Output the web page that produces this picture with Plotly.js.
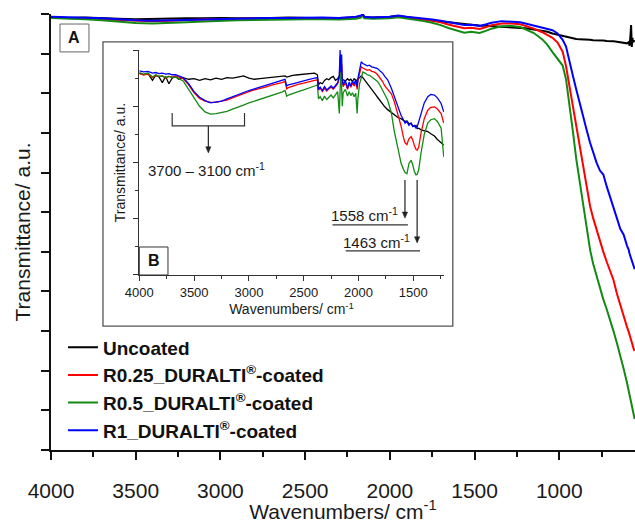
<!DOCTYPE html>
<html>
<head>
<meta charset="utf-8">
<script src="https://cdn.plot.ly/plotly-3.0.1.min.js"></script>
<style>html,body{margin:0;padding:0;background:#fff;}#chart{width:635px;height:523px;}</style>
</head>
<body>
<div id="chart"></div>
<script>
// ---------- Main panel (A) ----------
const mainWn = [4000,3900,3800,3700,3600,3500,3400,3300,3200,3100,3000,2900,2800,2700,2600,2500,2400,2300,2200,2170,2160,2150,2100,2000,1950,1900,1850,1800,1750,1700,1650,1600,1560,1520,1470,1430,1400,1340,1280,1230,1200,1150,1100,1070,1040,1010,980,960,940,920,900,880,860,840,818,800,780,760,740,720,700,680,660,640,620,600,590,585,580,576,572,568,564,560,555];
const mainUncoated = [109.2,109.0,109.1,108.9,108.8,108.7,108.8,108.8,108.9,108.9,109.0,108.9,108.9,109.0,109.1,109.0,108.9,109.0,109.1,109.4,109.9,109.2,109.1,109.3,109.5,109.2,108.9,108.6,108.4,108.1,107.9,107.6,107.4,107.3,107.1,107.0,106.9,106.9,106.7,106.5,106.4,106.1,105.8,105.5,105.1,104.8,104.5,104.3,104.0,103.8,103.7,103.6,103.6,103.5,103.5,103.4,103.4,103.4,103.3,103.2,103.2,103.1,103.0,102.9,102.7,102.6,102.9,102.0,104.5,107.2,101.7,104.0,102.8,103.3,103.0];
const mainR025 = [109.1,109.0,108.9,108.7,108.5,108.3,108.2,108.3,108.5,108.6,108.7,108.8,108.8,108.9,108.9,109.0,109.0,108.9,109.1,109.4,109.8,109.1,109.0,109.2,109.4,109.1,108.9,108.7,108.3,107.9,107.3,106.8,106.4,106.5,106.2,106.7,107.2,107.6,107.6,107.4,107.0,106.3,105.4,104.8,104.0,102.8,100.5,96.8,91.8,86.5,81.5,76.5,71.0,66.0,61.5,58.5,55.5,52.5,50.0,47.5,45.2,42.9,39.5,36.5,33.5,31.0,29.8,29.0,28.5,27.8,27.0,26.6,26.0,25.4,25.0];
const mainR05 = [109.0,108.9,108.7,108.4,108.0,107.7,107.6,107.7,107.9,108.1,108.3,108.4,108.5,108.6,108.6,108.7,108.7,108.6,108.8,109.1,109.7,108.9,108.8,108.9,109.2,108.9,108.6,108.2,107.8,107.2,106.4,105.8,105.3,105.5,105.2,105.8,106.3,106.9,107.0,106.7,106.2,105.2,103.6,102.2,100.4,98.8,97.0,93.5,87.5,80.5,73.5,68.0,62.5,57.0,50.5,47.0,44.0,40.5,38.0,35.5,33.0,30.0,27.0,24.0,20.5,16.9,15.0,14.0,13.0,12.2,11.0,10.2,9.3,8.6,7.8];
const mainR1 = [109.3,109.2,109.1,108.9,108.7,108.4,108.3,108.4,108.6,108.7,108.8,108.9,108.9,109.0,109.0,109.1,109.1,109.0,109.3,109.6,110.0,109.3,109.1,109.3,109.6,109.3,109.1,108.9,108.6,108.3,107.9,107.6,107.2,107.3,107.0,107.4,107.8,108.2,108.1,107.9,107.6,107.1,106.5,106.3,105.9,105.1,103.5,101.8,98.5,94.5,91.0,87.5,84.2,81.0,77.5,75.0,72.5,70.5,69.5,66.5,64.0,61.5,58.5,55.8,54.3,51.5,50.5,49.5,48.8,48.0,47.5,47.0,46.6,46.0,45.6];

// ---------- Inset panel (B) ----------
const insetWn = [4000,3960,3920,3880,3850,3820,3790,3760,3730,3700,3670,3640,3600,3550,3500,3450,3400,3350,3300,3250,3200,3150,3100,3050,3000,2950,2900,2850,2800,2750,2700,2670,2655,2640,2600,2550,2500,2450,2400,2375,2365,2350,2330,2310,2290,2270,2250,2230,2210,2190,2175,2168,2160,2154,2148,2140,2120,2100,2085,2070,2055,2040,2025,2012,2005,1990,1975,1960,1940,1920,1900,1880,1860,1840,1826,1800,1780,1760,1734,1700,1673,1640,1612,1590,1575,1558,1540,1520,1505,1490,1475,1463,1450,1430,1400,1368,1340,1307,1280,1246,1222];
const insetUncoated = [35.9,35.6,35.8,34.6,35.5,35.2,34.2,35.3,34.0,35.0,35.3,34.8,35.1,34.8,34.9,34.6,34.9,34.7,35.0,34.8,35.1,35.0,35.2,35.4,35.0,34.8,34.9,35.0,35.1,35.2,35.3,35.4,35.2,35.3,35.5,35.6,35.7,35.8,35.9,35.6,33.8,34.2,34.0,34.6,34.9,34.7,35.1,35.3,34.6,34.9,35.4,35.0,35.2,34.8,34.9,34.7,34.5,34.9,34.6,34.8,34.4,34.9,34.7,34.5,34.8,35.2,35.4,35.1,34.6,34.1,33.5,33.2,32.6,32.0,31.6,30.9,30.4,29.9,29.4,28.9,28.4,28.0,27.8,27.5,27.3,27.4,26.9,27.0,26.5,26.4,26.6,26.0,26.1,25.8,25.7,25.5,25.1,24.7,24.1,23.6,23.1];
const insetR025 = [35.8,35.6,35.7,35.1,35.5,35.3,35.4,35.0,35.3,35.2,35.4,35.2,34.9,33.8,32.4,31.4,30.9,30.7,30.7,30.9,31.1,31.5,31.9,32.3,32.6,32.9,33.1,33.4,33.7,33.9,34.2,34.4,33.1,33.3,33.6,33.9,34.1,34.4,34.6,34.7,32.9,33.2,32.6,33.2,32.7,33.1,33.4,33.0,33.5,34.0,35.0,38.8,35.5,37.5,34.6,33.5,34.2,33.0,34.0,33.4,34.1,33.6,34.3,33.0,34.6,36.0,37.0,36.8,36.6,36.4,36.5,36.2,36.1,35.9,35.6,35.0,34.4,33.6,33.0,32.2,30.8,28.7,26.5,24.5,23.5,23.2,24.2,24.6,24.0,23.0,22.3,22.2,22.8,25.2,27.8,29.3,29.8,29.9,29.5,28.7,27.0];
const insetR05 = [36.0,35.7,35.9,35.2,35.6,35.3,35.4,35.1,35.3,35.1,35.2,34.9,34.5,33.0,31.4,30.0,29.0,28.6,28.7,28.9,29.1,29.5,29.8,30.2,30.6,30.9,31.2,31.5,31.8,32.1,32.5,32.8,31.8,32.0,32.3,32.6,32.9,33.2,33.6,33.8,31.3,31.7,31.0,31.8,31.2,31.6,32.0,31.5,32.0,32.6,28.7,35.0,37.0,33.5,30.0,32.4,33.0,31.8,32.6,31.9,32.4,31.7,32.3,28.7,31.5,34.0,35.3,36.1,35.9,35.6,35.5,35.2,35.0,34.7,34.4,33.6,32.8,32.0,31.1,28.8,25.5,22.5,19.9,18.8,18.2,18.0,19.8,20.4,19.6,18.4,17.8,17.9,18.8,21.6,25.0,27.0,27.6,27.8,27.3,26.1,21.0];
const insetR1 = [36.3,36.1,36.2,35.9,36.0,35.8,35.9,35.7,35.8,35.6,35.6,35.4,35.1,34.0,32.6,31.6,31.0,30.6,30.7,30.9,31.3,31.7,32.1,32.5,32.8,33.1,33.4,33.6,33.9,34.2,34.5,34.8,33.6,33.8,34.0,34.3,34.5,34.8,35.0,35.1,33.0,33.4,32.8,33.5,32.9,33.3,33.6,33.2,33.7,34.2,35.5,40.0,36.0,39.2,35.0,33.8,34.6,33.2,34.3,33.6,34.5,33.9,34.8,33.5,35.0,36.8,37.9,37.6,37.4,37.2,37.3,37.0,36.9,36.8,36.7,36.2,35.9,35.3,34.7,33.2,31.7,30.0,28.4,27.6,27.0,27.3,26.6,27.0,26.4,26.6,26.1,26.4,27.3,28.7,30.6,31.7,32.1,32.0,31.5,30.5,29.0];

const seriesNames = ['Uncoated','R0.25_DURALTI<sup>®</sup>-coated','R0.5_DURALTI<sup>®</sup>-coated','R1_DURALTI<sup>®</sup>-coated'];
const seriesColors = ['#000000','#ff0000','#138a13','#0000ff'];
const xTickLabels = ['4000','3500','3000','2500','2000','1500','1000'];
const insetTickLabels = ['4000','3500','3000','2500','2000','1500'];

const mainVals = [mainUncoated, mainR025, mainR05, mainR1];
const insetVals = [insetUncoated, insetR025, insetR05, insetR1];

const traces = [];
mainVals.forEach((v, i) => {
  traces.push({x: mainWn, y: v, type: 'scatter', mode: 'lines', name: '<b>' + seriesNames[i] + '</b>',
    line: {color: seriesColors[i], width: 2}, xaxis: 'x', yaxis: 'y', legendgroup: 'g' + i});
});
insetVals.forEach((v, i) => {
  traces.push({x: insetWn, y: v, type: 'scatter', mode: 'lines', showlegend: false,
    line: {color: seriesColors[i], width: 1.3}, xaxis: 'x2', yaxis: 'y2', legendgroup: 'g' + i});
});

// arrow helper (vertical arrow drawn with shapes in inset data units)
function arrowShapes(x, yTail, yTip) {
  const hw = 24, hh = 1.1; // half width (cm-1), head height (a.u.)
  return [
    {type: 'line', xref: 'x2', yref: 'y2', x0: x, x1: x, y0: yTail, y1: yTip + hh * 0.5, line: {color: '#222', width: 1.2}},
    {type: 'path', xref: 'x2', yref: 'y2', path: `M ${x - hw} ${yTip + hh} L ${x + hw} ${yTip + hh} L ${x} ${yTip} Z`,
      fillcolor: '#222', line: {color: '#222', width: 0.5}}
  ];
}

const txt = '#1a1a1a';
const layout = {
  width: 635, height: 523,
  margin: {l: 51, r: 0, t: 14, b: 73, pad: 0, autoexpand: false},
  paper_bgcolor: '#ffffff', plot_bgcolor: '#ffffff',
  font: {family: '"Liberation Sans", Arial, sans-serif', color: txt},
  showlegend: true,
  legend: {x: 0.0205, xanchor: 'left', y: 0.279, yanchor: 'top', bgcolor: 'rgba(0,0,0,0)',
    font: {size: 19, color: '#111'}, traceorder: 'grouped', tracegroupgap: 0, itemwidth: 30},
  xaxis: {range: [4000, 553], tickmode: 'array', tickvals: xTickLabels.map(Number), ticktext: xTickLabels,
    automargin: false, ticklabelstandoff: 13,
    ticks: 'outside', ticklen: 8, tickwidth: 2, tickcolor: '#111', showline: true, linewidth: 2, linecolor: '#111',
    showgrid: false, zeroline: false, tickfont: {size: 21, color: txt},
    minor: {dtick: 250, tick0: 0, ticks: 'outside', ticklen: 5, tickwidth: 2, tickcolor: '#111', showgrid: false},
    title: {text: 'Wavenumbers/ cm<sup>-1</sup>', font: {size: 21, color: txt}, standoff: 10}},
  yaxis: {range: [0, 110], dtick: 10, tick0: 0, ticks: 'outside', ticklen: 8, tickwidth: 2, tickcolor: '#111',
    automargin: false,
    showticklabels: false, showline: true, linewidth: 2, linecolor: '#111', showgrid: false, zeroline: false,
    title: {text: 'Transmittance/ a.u.', font: {size: 21, color: txt}, standoff: 5}},
  xaxis2: {domain: [0.1512, 0.6729], anchor: 'y2', range: [4000, 1220], tickmode: 'array',
    automargin: false,
    tickvals: insetTickLabels.map(Number), ticktext: insetTickLabels,
    ticks: 'outside', ticklen: 5, tickwidth: 1, tickcolor: '#333', showline: true, linewidth: 1, linecolor: '#333',
    showgrid: false, zeroline: false, tickfont: {size: 13, color: txt},
    minor: {dtick: 250, tick0: 0, ticks: 'outside', ticklen: 3, tickwidth: 1, tickcolor: '#333', showgrid: false},
    title: {text: 'Wavenumbers/ cm<sup>-1</sup>', font: {size: 14, color: txt}, standoff: 3}},
  yaxis2: {domain: [0.4014, 0.9174], anchor: 'x2', range: [0, 40], dtick: 10, tick0: 0,
    automargin: false,
    ticks: 'outside', ticklen: 5, tickwidth: 1, tickcolor: '#333', showticklabels: false,
    showline: true, linewidth: 1, linecolor: '#333', showgrid: false, zeroline: false,
    minor: {dtick: 5, tick0: 0, ticks: 'outside', ticklen: 3, tickwidth: 1, tickcolor: '#333', showgrid: false},
    title: {text: 'Transmittance/ a.u.', font: {size: 14, color: txt}, standoff: 4}},
  shapes: [
    {type: 'rect', xref: 'paper', yref: 'paper', x0: 0.089, x1: 0.688, y0: 0.284, y1: 0.936, line: {color: '#555', width: 1.3}, layer: 'below'},
    {type: 'rect', xref: 'paper', yref: 'paper', x0: 0.0154, x1: 0.065, y0: 0.913, y1: 0.977, line: {color: '#666', width: 1}},
    {type: 'rect', xref: 'paper', yref: 'paper', x0: 0.1512, x1: 0.2003, y0: 0.4014, y1: 0.4656, line: {color: '#333', width: 1}},
    {type: 'path', xref: 'x2', yref: 'y2', path: 'M 3700 28.8 L 3700 26.5 L 3040 26.5 L 3040 28.8', line: {color: '#333', width: 1.2}},
    {type: 'line', xref: 'x2', yref: 'y2', x0: 2237, x1: 1549, y0: 8.9, y1: 8.9, line: {color: '#333', width: 1.2}},
    {type: 'line', xref: 'x2', yref: 'y2', x0: 2116, x1: 1439, y0: 4.3, y1: 4.3, line: {color: '#333', width: 1.2}},
    ...arrowShapes(3370, 26.5, 21.7),
    ...arrowShapes(1576, 16.9, 10.1),
    ...arrowShapes(1465, 16.9, 5.7)
  ],
  annotations: [
    {xref: 'paper', yref: 'paper', x: 0.0402, y: 0.945, xanchor: 'center', yanchor: 'middle', text: '<b>A</b>', showarrow: false, font: {size: 16, color: '#111'}},
    {xref: 'paper', yref: 'paper', x: 0.1758, y: 0.4335, xanchor: 'center', yanchor: 'middle', text: '<b>B</b>', showarrow: false, font: {size: 16, color: '#111'}},
    {xref: 'x2', yref: 'y2', x: 3389, y: 18.7, xanchor: 'center', yanchor: 'middle', text: '3700 – 3100 cm<sup>-1</sup>', showarrow: false, font: {size: 15, color: txt}},
    {xref: 'x2', yref: 'y2', x: 1942, y: 10.7, xanchor: 'center', yanchor: 'middle', text: '1558 cm<sup>-1</sup>', showarrow: false, font: {size: 15, color: txt}},
    {xref: 'x2', yref: 'y2', x: 1832, y: 5.9, xanchor: 'center', yanchor: 'middle', text: '1463 cm<sup>-1</sup>', showarrow: false, font: {size: 15, color: txt}}
  ]
};

Plotly.newPlot('chart', traces, layout, {displayModeBar: false, staticPlot: true});
</script>
</body>
</html>
